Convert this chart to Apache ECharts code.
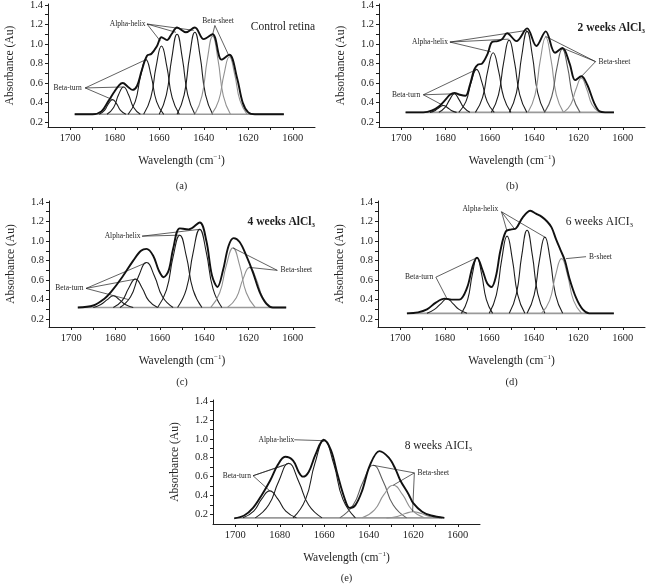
<!DOCTYPE html>
<html><head><meta charset="utf-8">
<script src="https://cdn.jsdelivr.net/npm/echarts@6/dist/echarts.min.js"></script>
<style>html,body{margin:0;padding:0;background:#fff}#c{width:648px;height:584px}</style>
</head><body><div id="c"></div>
<script>
// ---------- axis ticks ----------
const xTickLabels = [1600, 1620, 1640, 1660, 1680, 1700];
const xTickMarks = [1600, 1610, 1620, 1630, 1640, 1650, 1660, 1670, 1680, 1690, 1700];
const yTickLabels = [0.2, 0.4, 0.6, 0.8, 1.0, 1.2, 1.4];
const yTickMarks = [0.2, 0.3, 0.4, 0.5, 0.6, 0.7, 0.8, 0.9, 1.0, 1.1, 1.2, 1.3, 1.4];

// ---------- panel titles ----------
const panelTitles = ['Control retina', '2 weeks AlCl{s|3}', '4 weeks AlCl{s|3}', '6 weeks AICI{s|3}', '8 weeks AICI{s|3}'];
const panelCaptions = ['(a)', '(b)', '(c)', '(d)', '(e)'];

// ---------- (a) Control retina ----------
const aBaseline = [[1698, 0.28], [1604, 0.28]];
const aComponents = [
  [[1687,0.28],[1684.6,0.32],[1682.8,0.39],[1681,0.43],[1679.2,0.39],[1677.4,0.32],[1675,0.28]],
  [[1683.5,0.28],[1680.5,0.35],[1678.3,0.48],[1676,0.56],[1673.8,0.48],[1671.5,0.35],[1668.5,0.28]],
  [[1674,0.28],[1670.8,0.41],[1668.4,0.67],[1666,0.84],[1663.6,0.67],[1661.2,0.41],[1658,0.28]],
  [[1667,0.28],[1663.8,0.45],[1661.4,0.77],[1659,0.98],[1656.6,0.77],[1654.2,0.45],[1651,0.28]],
  [[1660,0.28],[1656.8,0.48],[1654.4,0.85],[1652,1.10],[1649.6,0.85],[1647.2,0.48],[1644,0.28]],
  [[1652,0.28],[1648.8,0.48],[1646.4,0.87],[1644,1.12],[1641.6,0.87],[1639.2,0.48],[1636,0.28]],
  [[1644,0.28],[1640.8,0.47],[1638.4,0.84],[1636,1.08],[1633.6,0.84],[1631.2,0.47],[1628,0.28]],
  [[1636.5,0.28],[1633.3,0.42],[1630.9,0.69],[1628.5,0.87],[1626.1,0.69],[1623.7,0.42],[1620.5,0.28]]
];
const aEnvelope = [[1698,0.28],[1690,0.28],[1686,0.31],[1683,0.41],[1680.5,0.50],[1678,0.58],[1676.4,0.60],[1674,0.56],[1672,0.53],[1670,0.57],[1668,0.72],[1665.5,0.88],[1663.5,0.90],[1661,0.98],[1659,1.07],[1656.5,1.04],[1654.5,1.10],[1652,1.17],[1648,1.12],[1644,1.17],[1640,1.05],[1636,1.10],[1632,0.84],[1628.5,0.89],[1625,0.65],[1622.5,0.40],[1620,0.30],[1617,0.28],[1604,0.28]];

// ---------- (b) 2 weeks ----------
const bBaseline = [[1698, 0.30], [1604, 0.30]];
const bComponents = [
  [[1687,0.30],[1684.6,0.32],[1682.8,0.35],[1681,0.37],[1679.2,0.35],[1677.4,0.32],[1675,0.30]],
  [[1683,0.30],[1680.2,0.35],[1678.1,0.43],[1676,0.49],[1673.9,0.43],[1671.8,0.35],[1669,0.30]],
  [[1674,0.30],[1670.8,0.41],[1668.4,0.61],[1666,0.74],[1663.6,0.61],[1661.2,0.41],[1658,0.30]],
  [[1666.5,0.30],[1663.3,0.45],[1660.9,0.73],[1658.5,0.91],[1656.1,0.73],[1653.7,0.45],[1650.5,0.30]],
  [[1659.3,0.30],[1656.1,0.48],[1653.7,0.82],[1651.3,1.04],[1648.9,0.82],[1646.5,0.48],[1643.3,0.30]],
  [[1651.2,0.30],[1648,0.50],[1645.6,0.88],[1643.2,1.13],[1640.8,0.88],[1638.4,0.50],[1635.2,0.30]],
  [[1642.8,0.30],[1639.6,0.48],[1637.2,0.84],[1634.8,1.07],[1632.4,0.84],[1630,0.48],[1626.8,0.30]],
  [[1635.3,0.30],[1632.1,0.46],[1629.7,0.76],[1627.3,0.95],[1624.9,0.76],[1622.5,0.46],[1619.3,0.30]],
  [[1626.7,0.30],[1623.5,0.38],[1621.1,0.54],[1618.7,0.65],[1616.3,0.54],[1613.9,0.38],[1610.7,0.30]]
];
const bEnvelope = [[1698,0.30],[1690,0.30],[1686,0.32],[1683,0.36],[1680,0.43],[1678,0.48],[1676,0.50],[1673.5,0.48],[1671,0.47],[1669,0.58],[1667,0.74],[1665.3,0.79],[1663.5,0.80],[1661,0.90],[1659,1.02],[1656.5,1.03],[1654.5,1.05],[1652.2,1.11],[1648,1.03],[1643.2,1.16],[1639,0.98],[1634.8,1.13],[1630.6,0.91],[1627.3,0.96],[1624,0.80],[1621.5,0.63],[1618.7,0.67],[1616,0.58],[1613,0.40],[1610.5,0.31],[1608,0.30],[1604,0.30]];

// ---------- (c) 4 weeks ----------
const cBaseline = [[1697, 0.32], [1603, 0.32]];
const cComponents = [
  [[1690,0.32],[1686.6,0.35],[1683.7,0.40],[1681,0.44],[1678.3,0.40],[1675.6,0.35],[1672,0.32]],
  [[1681,0.32],[1677,0.39],[1674,0.52],[1671,0.61],[1668,0.52],[1665,0.39],[1661,0.32]],
  [[1678,0.32],[1673.2,0.43],[1669.6,0.64],[1666,0.78],[1662.4,0.64],[1658.8,0.43],[1654,0.32]],
  [[1661,0.32],[1657,0.50],[1654,0.84],[1651,1.06],[1648,0.84],[1645,0.50],[1641,0.32]],
  [[1652,0.32],[1648,0.51],[1645,0.88],[1642,1.12],[1639,0.88],[1636,0.51],[1632,0.32]],
  [[1637,0.32],[1633,0.47],[1630,0.75],[1627,0.93],[1624,0.75],[1621,0.47],[1617,0.32]],
  [[1629.5,0.32],[1625.5,0.42],[1622.5,0.61],[1619.5,0.73],[1616.5,0.61],[1613.5,0.42],[1609.5,0.32]]
];
const cEnvelope = [[1697,0.32],[1690,0.34],[1685,0.41],[1682,0.48],[1677,0.63],[1672,0.80],[1668.5,0.90],[1666,0.92],[1663,0.85],[1660.5,0.70],[1658.3,0.63],[1656,0.70],[1654,0.92],[1651,1.13],[1647,1.12],[1642,1.19],[1639,1.00],[1636.5,0.65],[1634,0.53],[1631.5,0.70],[1629,0.95],[1626.7,1.03],[1624,0.99],[1621,0.85],[1618,0.68],[1615,0.48],[1612,0.36],[1609,0.32],[1603,0.32]];

// ---------- (d) 6 weeks ----------
const dBaseline = [[1697, 0.26], [1604, 0.26]];
const dComponents = [
  [[1688,0.26],[1684.6,0.30],[1681.7,0.36],[1679,0.41],[1676.3,0.36],[1673.6,0.30],[1670,0.26]],
  [[1672.5,0.26],[1669.7,0.40],[1667.6,0.66],[1665.5,0.83],[1663.4,0.66],[1661.3,0.40],[1658.5,0.26]],
  [[1660,0.26],[1656.8,0.45],[1654.4,0.81],[1652,1.05],[1649.6,0.81],[1647.2,0.45],[1644,0.26]],
  [[1651,0.26],[1647.8,0.46],[1645.4,0.85],[1643,1.11],[1640.6,0.85],[1638.2,0.46],[1635,0.26]],
  [[1643,0.26],[1639.8,0.45],[1637.4,0.81],[1635,1.04],[1632.6,0.81],[1630.2,0.45],[1627,0.26]],
  [[1636.5,0.26],[1632.9,0.39],[1630.2,0.65],[1627.5,0.82],[1624.8,0.65],[1622.1,0.39],[1618.5,0.26]]
];
const dEnvelope = [[1697,0.26],[1692,0.27],[1688,0.30],[1684,0.37],[1680,0.41],[1677,0.40],[1673.5,0.40],[1670,0.52],[1667.5,0.74],[1665.5,0.83],[1663,0.70],[1661,0.57],[1659,0.53],[1657,0.64],[1655,0.90],[1652.5,1.10],[1650,1.12],[1648,1.13],[1645,1.24],[1641.5,1.31],[1639,1.28],[1636.5,1.25],[1634,1.20],[1632,1.14],[1630,1.02],[1628,0.91],[1626,0.80],[1624,0.62],[1621,0.42],[1618,0.30],[1615,0.26],[1604,0.26]];

// ---------- (e) 8 weeks ----------
const eBaseline = [[1700, 0.165], [1607, 0.165]];
const eComponents = [
  [[1696.5,0.165],[1691.7,0.235],[1688.1,0.365],[1684.5,0.45],[1680.9,0.365],[1677.3,0.235],[1672.5,0.165]],
  [[1691,0.165],[1685,0.30],[1680.5,0.55],[1676,0.74],[1671.5,0.55],[1667,0.30],[1661,0.165]],
  [[1674,0.165],[1668.4,0.36],[1664.2,0.74],[1660,0.98],[1655.8,0.74],[1651.6,0.36],[1646,0.165]],
  [[1653,0.165],[1647,0.30],[1642.5,0.55],[1638,0.72],[1633.5,0.55],[1629,0.30],[1623,0.165]],
  [[1643,0.165],[1637.4,0.25],[1633.2,0.41],[1629,0.51],[1624.8,0.41],[1620.6,0.25],[1615,0.165]],
  [[1632,0.165],[1627.2,0.18],[1623.6,0.21],[1620,0.23],[1616.4,0.21],[1612.8,0.18],[1608,0.165]]
];
const eEnvelope = [[1700.5,0.16],[1696,0.19],[1692,0.27],[1688,0.41],[1684.3,0.56],[1681,0.72],[1677.6,0.81],[1674,0.77],[1671.5,0.65],[1669.6,0.60],[1667,0.65],[1664,0.83],[1660.3,0.99],[1657,0.88],[1654,0.62],[1651,0.38],[1648.6,0.27],[1646,0.30],[1643,0.45],[1639.5,0.72],[1635.2,0.87],[1631,0.80],[1628,0.68],[1625.8,0.56],[1622,0.41],[1620,0.32],[1616,0.23],[1612,0.19],[1606,0.165]];

// ---------- styling / layout (not data) ----------
const FONT = "'Liberation Serif','DejaVu Serif',serif";
const INK = '#1e1e1e';
const SHADE = { k: '#1e1e1e', m: '#5e5e5e', g: '#929292' };
const panels = [
  { base: aBaseline, comps: aComponents, env: aEnvelope, shades: 'kkkkkkgg', ymin: 0.15,
    grid: { left: 48, top: 4, width: 267, height: 123 } },
  { base: bBaseline, comps: bComponents, env: bEnvelope, shades: 'kkkkkkgmg', ymin: 0.15,
    grid: { left: 379, top: 4, width: 266, height: 123 } },
  { base: cBaseline, comps: cComponents, env: cEnvelope, shades: 'kkkkkgg', ymin: 0.12,
    grid: { left: 49, top: 201, width: 266, height: 126 } },
  { base: dBaseline, comps: dComponents, env: dEnvelope, shades: 'kkkkkg', ymin: 0.12,
    grid: { left: 378, top: 201, width: 267, height: 126 } },
  { base: eBaseline, comps: eComponents, env: eEnvelope, shades: 'kkkmgg', ymin: 0.10,
    grid: { left: 213, top: 400, width: 267, height: 124 } }
];
// annotation placement (data coordinates)
const annotations = [
  { texts: [['Beta-turn',1701.2,0.55],['Alpha-helix',1674.2,1.205],['Beta-sheet',1633.6,1.24]],
    lines: [[1693.3,0.55,1681,0.43],[1693.3,0.55,1676,0.56],[1693.3,0.55,1666,0.84],
            [1665.5,1.205,1659.5,1.03],[1665.5,1.205,1652.5,1.12],[1665.5,1.205,1644.5,1.14],
            [1635,1.19,1636,1.10],[1635,1.19,1628.7,0.88]] },
  { texts: [['Alpha-helix',1687,1.02],['Beta-sheet',1603.8,0.82],['Beta-turn',1697.8,0.48]],
    lines: [[1678,1.02,1659.5,0.92],[1678,1.02,1651.5,1.05],[1678,1.02,1643.2,1.14],
            [1612.3,0.82,1635,1.08],[1612.3,0.82,1627.3,0.96],[1612.3,0.82,1619,0.66],
            [1690,0.48,1666,0.74],[1690,0.48,1676,0.49],[1690,0.48,1681,0.37]] },
  { texts: [['Alpha-helix',1676.8,1.05],['Beta-turn',1700.8,0.515],['Beta-sheet',1598.4,0.70]],
    lines: [[1668,1.05,1651,1.06],[1668,1.05,1642,1.12],
            [1693.3,0.515,1666,0.78],[1693.3,0.515,1671,0.61],[1693.3,0.515,1674,0.40],
            [1607,0.70,1627,0.93],[1607,0.70,1619.5,0.73]] },
  { texts: [['Alpha-helix',1664,1.33],['Beta-turn',1691.5,0.63],['B-sheet',1610,0.84]],
    lines: [[1654.5,1.30,1652,1.10],[1654.5,1.30,1648.5,1.12],[1654.5,1.30,1635,1.04],
            [1684,0.63,1665.5,0.83],[1684,0.63,1679,0.41],
            [1616.5,0.84,1625.5,0.82]] },
  { texts: [['Alpha-helix',1681.5,0.99],['Beta-turn',1699.3,0.61],['Beta-sheet',1611,0.64]],
    lines: [[1673.5,0.99,1660.3,0.98],
            [1692,0.61,1678,0.72],[1692,0.61,1676,0.74],[1692,0.61,1684.5,0.45],
            [1619.5,0.64,1638,0.72],[1619.5,0.64,1629,0.51],[1619.5,0.64,1620.3,0.23]] }
];
const titlePos = [
  { right: 333, top: 21, bold: false },
  { right: 3, top: 21, bold: true },
  { right: 333, top: 215, bold: true },
  { right: 15, top: 215, bold: false },
  { right: 176, top: 439, bold: false }
];
const captionPos = [[181.5, 181], [512, 181], [182, 377], [511.5, 377], [346.5, 573]];

const grids = [], xAxes = [], yAxes = [], series = [], titles = [];
panels.forEach((p, i) => {
  grids.push(Object.assign({ outerBoundsMode: 'none', containLabel: false }, p.grid));
  xAxes.push({
    gridIndex: i, type: 'value', min: 1590, max: 1710, inverse: true,
    axisLine: { show: true, onZero: false, lineStyle: { color: INK, width: 1 } },
    axisTick: { show: true, length: 3, customValues: xTickMarks, lineStyle: { color: INK } },
    axisLabel: { customValues: xTickLabels, margin: 6, fontSize: 10.5, fontFamily: FONT, color: INK,
      formatter: v => String(Math.round(v)) },
    splitLine: { show: false },
    name: 'Wavelength (cm{sup|−1})', nameLocation: 'middle', nameGap: 27,
    nameTextStyle: { fontSize: 11.5, fontFamily: FONT, color: INK,
      rich: { sup: { fontSize: 7, fontFamily: FONT, color: INK, padding: [0, 0, 6, 0] } } }
  });
  yAxes.push({
    gridIndex: i, type: 'value', min: p.ymin, max: 1.41,
    axisLine: { show: true, lineStyle: { color: INK, width: 1 } },
    axisTick: { show: true, length: 3, customValues: yTickMarks, lineStyle: { color: INK } },
    axisLabel: { customValues: yTickLabels, margin: 5, fontSize: 10.5, fontFamily: FONT, color: INK,
      formatter: v => v.toFixed(1) },
    splitLine: { show: false },
    name: 'Absorbance (Au)', nameLocation: 'middle', nameGap: 32, nameRotate: 90,
    nameTextStyle: { fontSize: 11.5, fontFamily: FONT, color: INK }
  });
  series.push({ type: 'line', xAxisIndex: i, yAxisIndex: i, data: p.base, symbol: 'none',
    lineStyle: { color: '#9a9a9a', width: 1.6 }, silent: true, z: 2 });
  p.comps.forEach((c, j) => {
    series.push({ type: 'line', xAxisIndex: i, yAxisIndex: i, data: c, symbol: 'none', smooth: 0.5,
      lineStyle: { color: SHADE[p.shades[j]], width: 1.1 }, silent: true, z: 3 });
  });
  const ann = annotations[i];
  series.push({ type: 'line', xAxisIndex: i, yAxisIndex: i, data: p.env, symbol: 'none', smooth: 0.35,
    lineStyle: { color: '#111', width: 1.9 }, silent: true, z: 5,
    markLine: { silent: true, symbol: ['none', 'none'], animation: false,
      lineStyle: { color: INK, width: 0.7, type: 'solid' }, label: { show: false },
      emphasis: { disabled: true },
      data: ann.lines.map(l => [{ coord: [l[0], l[1]] }, { coord: [l[2], l[3]] }]) },
    markPoint: { silent: true, symbol: 'rect', symbolSize: 1, animation: false,
      itemStyle: { color: 'rgba(0,0,0,0)' },
      label: { show: true, position: 'inside', formatter: q => q.name, fontSize: 7.5, fontFamily: FONT, color: INK },
      data: ann.texts.map(t => ({ name: t[0], coord: [t[1], t[2]] })) }
  });
  const tp = titlePos[i];
  titles.push({ text: panelTitles[i], right: tp.right, top: tp.top, padding: 0,
    textStyle: { fontSize: 11.5, fontWeight: tp.bold ? 'bold' : 'normal', fontFamily: FONT, color: INK,
      rich: { s: { fontSize: 7, fontWeight: tp.bold ? 'bold' : 'normal', fontFamily: FONT, color: INK, padding: [7, 0, 0, 0] } } } });
  titles.push({ text: panelCaptions[i], left: captionPos[i][0], top: captionPos[i][1], textAlign: 'center', padding: 0,
    textStyle: { fontSize: 10.5, fontWeight: 'normal', fontFamily: FONT, color: INK } });
});

const chart = echarts.init(document.getElementById('c'), null, { renderer: 'canvas' });
chart.setOption({ animation: false, backgroundColor: '#fff', title: titles, grid: grids,
  xAxis: xAxes, yAxis: yAxes, series: series });
</script></body></html>
